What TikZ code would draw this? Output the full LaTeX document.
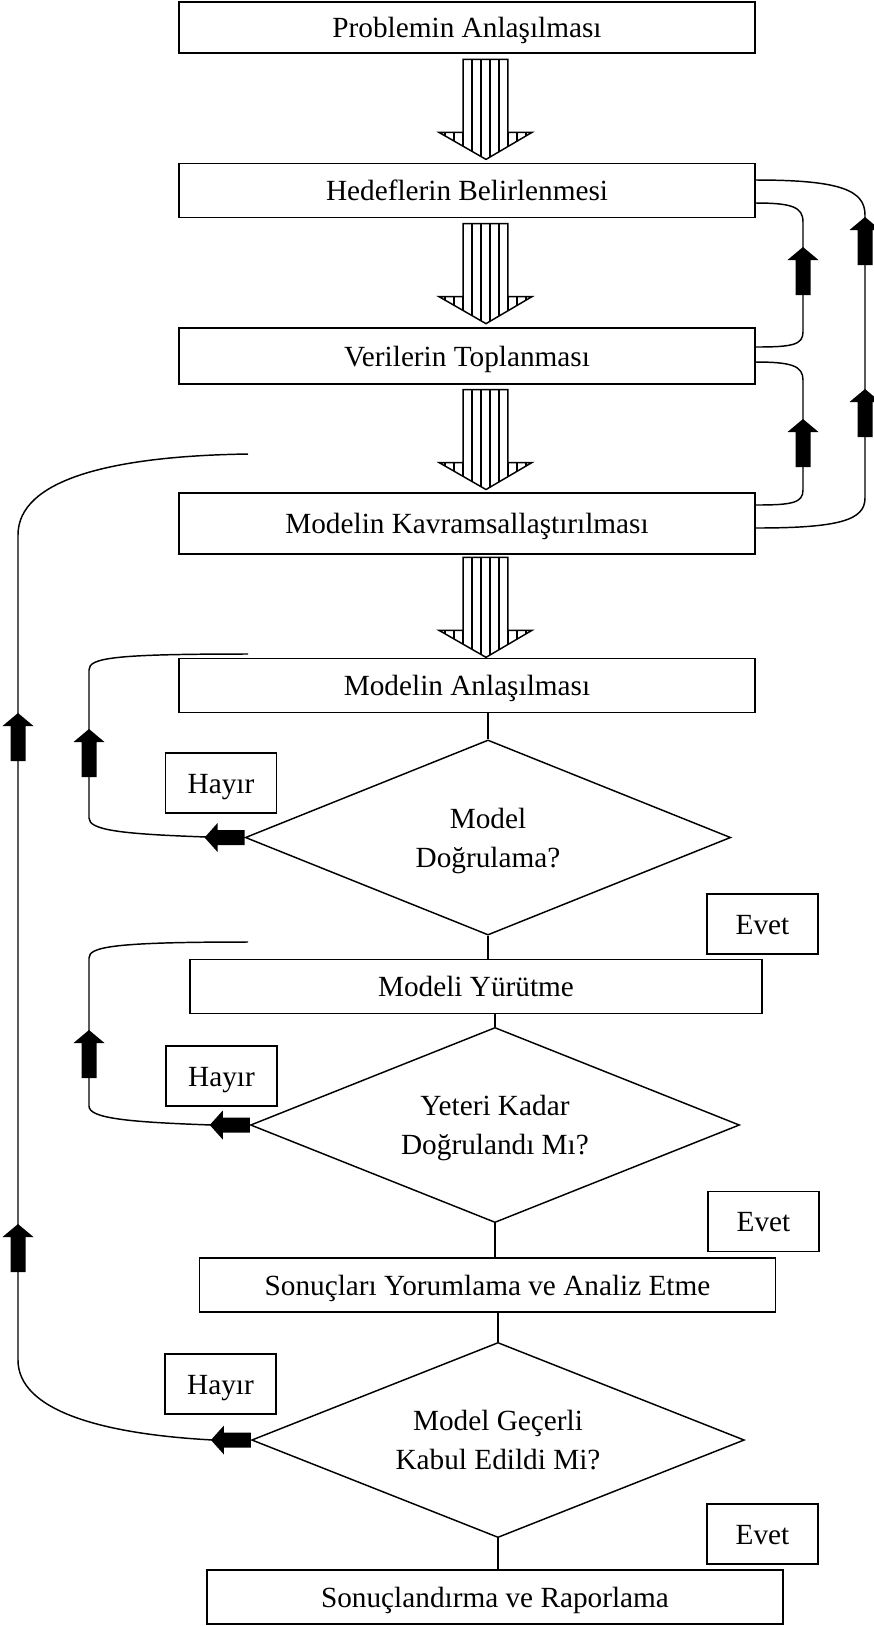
\documentclass[tikz,border=0pt]{standalone}
\usepackage{fontspec}
\setmainfont{Liberation Serif}
\usepackage{tikz}
\usetikzlibrary{shapes.geometric,calc}

\begin{document}
\begin{tikzpicture}[x=0.41pt,y=-0.41pt,line width=0.6pt,font=\fontsize{12}{16}\selectfont,
	box/.style={draw,rectangle,minimum width=236pt,minimum height=22pt,inner sep=0pt,text height=10.5pt,text depth=2pt},
	decision/.style={draw,diamond,aspect=2.5,minimum width=200.5pt,minimum height=80pt,inner sep=0pt,align=center,text depth=0pt},
	answer/.style={draw,rectangle,minimum width=45.5pt,minimum height=24.5pt,inner sep=0pt,text height=10.5pt,text depth=2pt},
	blkup/.pic={\fill (-7.5,0) -- (-7.5,-35) -- (-15.5,-35) -- (0,-48) -- (15.5,-35) -- (7.5,-35) -- (7.5,0) -- cycle;},
	blkleft/.pic={\fill (0,-7.5) -- (-27,-7.5) -- (-27,-14.5) -- (-40,0) -- (-27,14.5) -- (-27,7.5) -- (0,7.5) -- cycle;},
	hatch/.pic={
		\begin{scope}
		\clip (-23,-49) -- (22,-49) -- (22,24) -- (46,24) -- (0,51) -- (-47,24) -- (-23,24) -- cycle;
		\foreach \hx in {-41,-32,...,40} \draw[line width=0.45pt] (\hx,-55) -- (\hx,55);
		\end{scope}
		\draw (-23,-49) -- (22,-49) -- (22,24) -- (46,24) -- (0,51) -- (-47,24) -- (-23,24) -- cycle;}]
\useasboundingbox (0,0) rectangle (873,1626);
\coordinate (axis) at (486,0);
\node[box,minimum height=21pt] (B1) at (467,27.5) {Problemin Anlaşılması};
\node[box] (B2) at (467,190.5) {Hedeflerin Belirlenmesi};
\node[box,minimum height=23pt] (B3) at (467,356) {Verilerin Toplanması};
\node[box,minimum height=25pt] (B4) at (467,523.5) {Modelin Kavramsallaştırılması};
\node[box] (B5) at (467,685.5) {Modelin Anlaşılması};
\node[decision,minimum width=199pt] (D1) at (488,837.5) {Model\\Doğrulama?};
\node[answer] (H1) at (221,783) {Hayır};
\node[answer] (E1) at (762.5,924) {Evet};
\node[box,minimum width=234.5pt] (B6) at (476,986.5) {Modeli Yürütme};
\node[decision] (D2) at (495,1125) {Yeteri Kadar\\Doğrulandı Mı?};
\node[answer] (H2) at (221.5,1076) {Hayır};
\node[answer] (E2) at (763.5,1221.5) {Evet};
\node[box] (B7) at (487.5,1285) {Sonuçları Yorumlama ve Analiz Etme};
\node[decision,minimum width=202pt] (D3) at (498,1440) {Model Geçerli\\Kabul Edildi Mi?};
\node[answer] (H3) at (220.5,1384) {Hayır};
\node[answer] (E3) at (762.5,1534) {Evet};
\node[box] (B8) at (495,1597) {Sonuçlandırma ve Raporlama};
\coordinate (R1) at (248,654);
\coordinate (R2) at (248,942);
\coordinate (R3) at (248,454);
\foreach \a/\b in {B1/B2,B2/B3,B3/B4,B4/B5}
	\pic at ($(\a.south -| axis)!0.5!(\b.north -| axis)$) {hatch};
\draw (B5.south -| D1.north) -- (D1.north);
\draw (D1.south) -- (D1.south |- B6.north);
\draw (B6.south -| D2.north) -- (D2.north);
\draw (D2.south) -- (D2.south |- B7.north);
\draw (B7.south -| D3.north) -- (D3.north);
\draw (D3.south) -- (D3.south |- B8.north);
\draw ($(B3.east)+(0,-9)$) .. controls (792,347) and (803,345) .. (803,332) -- (803,222) .. controls (803,207) and (792,203) .. ($(B2.east)+(0,12.5)$);
\draw ($(B4.east)+(0,-18.5)$) .. controls (792,505) and (803,503) .. (803,490) -- (803,380) .. controls (803,366) and (792,362) .. ($(B3.east)+(0,6)$);
\draw ($(B4.east)+(0,4.5)$) .. controls (840,528) and (865,520) .. (865,498) -- (865,215) .. controls (865,190) and (840,180) .. ($(B2.east)+(0,-10.5)$);
\draw (D1.west) -- (207,837) .. controls (120,834) and (89,830) .. (89,818) -- (89,670) .. controls (89,658) and (112,654) .. (R1);
\draw (D2.west) -- (212,1125) .. controls (125,1122) and (89,1118) .. (89,1106) -- (89,958) .. controls (89,947) and (112,942) .. (R2);
\draw (D3.west) -- (213,1440) .. controls (100,1434) and (18,1410) .. (18,1360) -- (18,535) .. controls (18,480) and (110,456) .. (R3);
\pic at (D1.west) {blkleft};
\pic at (D2.west) {blkleft};
\pic at (D3.west) {blkleft};
\foreach \px/\py in {803/295,803/467,865/265,865/437,89/777,89/1078,18/761,18/1272}
	\pic at (\px,\py) {blkup};
\end{tikzpicture}
\end{document}
